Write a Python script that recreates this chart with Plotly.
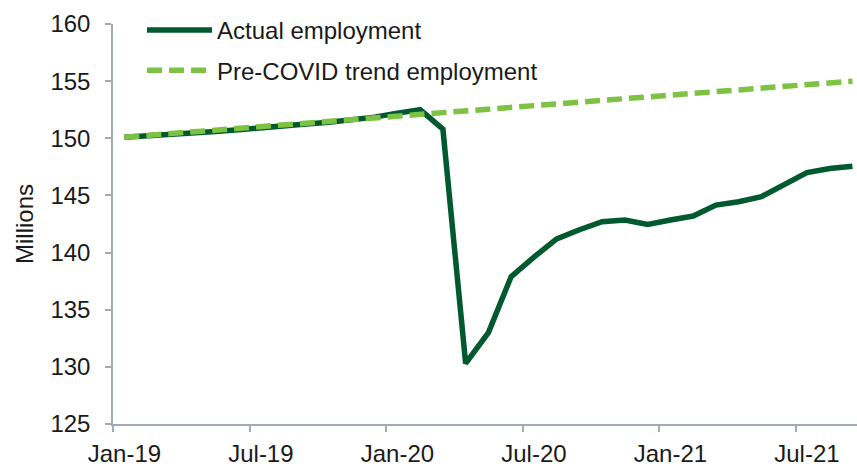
import plotly.graph_objects as go

# Monthly periods, Jan-2019 through Sep-2021
months = ["Jan-19", "Feb-19", "Mar-19", "Apr-19", "May-19", "Jun-19", "Jul-19", "Aug-19",
          "Sep-19", "Oct-19", "Nov-19", "Dec-19", "Jan-20", "Feb-20", "Mar-20", "Apr-20",
          "May-20", "Jun-20", "Jul-20", "Aug-20", "Sep-20", "Oct-20", "Nov-20", "Dec-20",
          "Jan-21", "Feb-21", "Mar-21", "Apr-21", "May-21", "Jun-21", "Jul-21", "Aug-21",
          "Sep-21"]

# Employment, millions
actual = [150.10, 150.20, 150.35, 150.50, 150.60, 150.75, 150.95, 151.10,
          151.25, 151.40, 151.60, 151.85, 152.20, 152.50, 150.80, 130.30,
          133.00, 137.90, 139.60, 141.20, 142.00, 142.70, 142.85, 142.45,
          142.85, 143.20, 144.15, 144.45, 144.90, 146.00, 147.00, 147.35,
          147.55]
trend = [150.10, 150.25, 150.41, 150.56, 150.71, 150.87, 151.02, 151.17,
         151.32, 151.48, 151.63, 151.78, 151.94, 152.09, 152.24, 152.40,
         152.55, 152.70, 152.85, 153.01, 153.16, 153.31, 153.47, 153.62,
         153.77, 153.93, 154.08, 154.23, 154.38, 154.54, 154.69, 154.84,
         155.00]

tick_labels = ["Jan-19", "Jul-19", "Jan-20", "Jul-20", "Jan-21", "Jul-21"]
y_ticks = [125, 130, 135, 140, 145, 150, 155, 160]

idx = list(range(len(months)))
label_pos = [months.index(m) for m in tick_labels]
boundary_pos = [p - 0.5 for p in label_pos]

DARK = "#00592F"
LIGHT = "#7DC243"
AXIS = "#A3AAB1"
FONT = "Liberation Sans, Arial, sans-serif"
FS = 24

fig = go.Figure()
fig.add_trace(go.Scatter(
    x=idx, y=actual, mode="lines", name="Actual employment",
    line=dict(color=DARK, width=5.5), legendgroup="a",
    customdata=months, hovertemplate="%{customdata}: %{y:.1f}<extra></extra>",
))
fig.add_trace(go.Scatter(
    x=idx, y=trend, mode="lines", name="Pre-COVID trend employment",
    line=dict(color=LIGHT, width=5.5, dash="15px,7px"), legendgroup="b",
    customdata=months, hovertemplate="%{customdata}: %{y:.1f}<extra></extra>",
))

fig.update_layout(
    width=857, height=467,
    margin=dict(l=113, r=0, t=24, b=39),
    paper_bgcolor="white", plot_bgcolor="white",
    font=dict(family=FONT, size=FS, color="#1A1A1A"),
    showlegend=True,
    legend=dict(
        x=0.039, y=1.04, xanchor="left", yanchor="top",
        bgcolor="rgba(0,0,0,0)", font=dict(size=FS),
        itemwidth=65, tracegroupgap=6,
    ),
    xaxis=dict(
        range=[-0.5, 32.2], showgrid=False, zeroline=False,
        showline=True, linecolor=AXIS, linewidth=1.5,
        tickmode="array", tickvals=label_pos, ticktext=tick_labels,
        ticks="", tickfont=dict(size=FS), ticklabelstandoff=7,
        minor=dict(tickmode="array", tickvals=boundary_pos, ticks="outside",
                   ticklen=6, tickcolor=AXIS, tickwidth=1.5),
    ),
    yaxis=dict(
        range=[125, 160], showgrid=False, zeroline=False,
        showline=True, linecolor=AXIS, linewidth=1.5,
        tickmode="array", tickvals=y_ticks,
        ticks="outside", ticklen=6, tickcolor=AXIS, tickwidth=1.5,
        tickfont=dict(size=FS), ticklabelstandoff=10,
        title=dict(text="Millions", font=dict(size=FS), standoff=10),
    ),
)

fig.write_html("out.html")
